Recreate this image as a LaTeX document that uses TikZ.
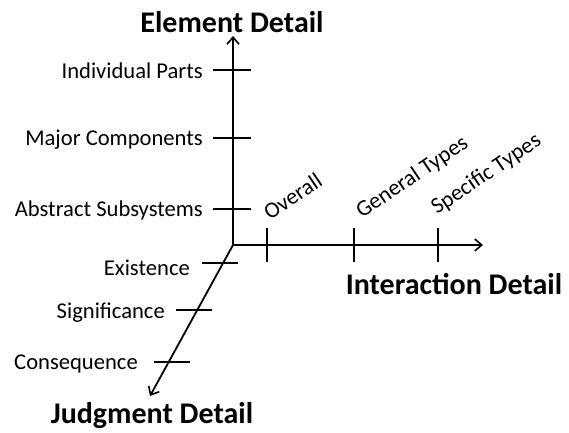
\documentclass[tikz,border=0pt]{standalone}
\usepackage{fontspec}
\setmainfont{Carlito}
\usetikzlibrary{arrows.meta}
\tikzset{
  axis/.style={line width=1.8pt, -{Straight Barb[length=7pt,width=12pt,line width=1.6pt]}},
  tick/.style={line width=1.8pt},
  title/.style={font=\fontsize{30}{33}\selectfont\bfseries, inner sep=0pt},
  lab/.style={font=\fontsize{22.6}{25}\selectfont, inner sep=0pt},
}
\begin{document}
\begin{tikzpicture}[x=1pt,y=-1pt]
\useasboundingbox (0,0) rectangle (569,432);
% axes
\coordinate (O) at (233,245);
\coordinate (Etop) at (233,36);
\coordinate (Iend) at (483,245);
\coordinate (Jend) at (150,396);
\draw[axis] (O) -- (Etop);
\draw[axis] (O) -- (Iend);
\draw[axis] (O) -- (Jend);
% element ticks
\coordinate (e1) at (232,209);
\coordinate (e2) at (232,138);
\coordinate (e3) at (232,70);
\foreach \c in {e1,e2,e3}{\draw[tick] ([xshift=-19]\c) -- ([xshift=19]\c);}
% interaction ticks
\coordinate (i1) at (267,245);
\coordinate (i2) at (354,245);
\coordinate (i3) at (438,245);
\foreach \c in {i1,i2,i3}{\draw[tick] ([yshift=17]\c) -- ([yshift=-17]\c);}
% judgment ticks
\coordinate (j1) at (220,263);
\coordinate (j2) at (194,310);
\coordinate (j3) at (172,362);
\foreach \c in {j1,j2,j3}{\draw[tick] ([xshift=-18]\c) -- ([xshift=18]\c);}
% titles
\node[title] (tE) at (232,22) {Element Detail};
\node[title] (tI) at (454,284) {Interaction Detail};
\node[title] (tJ) at (152,416) {Judgment Detail};
% element labels
\node[lab, anchor=east] (le1) at (203,210) {Abstract Subsystems};
\node[lab, anchor=east] (le2) at (203,140) {Major Components};
\node[lab, anchor=east] (le3) at (203,71) {Individual Parts};
% interaction labels
\node[lab, anchor=base west, rotate=34] (li1) at (270,221) {Overall};
\node[lab, anchor=base west, rotate=34] (li2) at (362,219) {General Types};
\node[lab, anchor=base west, rotate=34] (li3) at (437,215) {Specific Types};
% judgment labels
\node[lab, anchor=east] (lj1) at (190,268) {Existence};
\node[lab, anchor=east] (lj2) at (165,313) {Significance};
\node[lab, anchor=east] (lj3) at (138,364) {Consequence};
\end{tikzpicture}
\end{document}
